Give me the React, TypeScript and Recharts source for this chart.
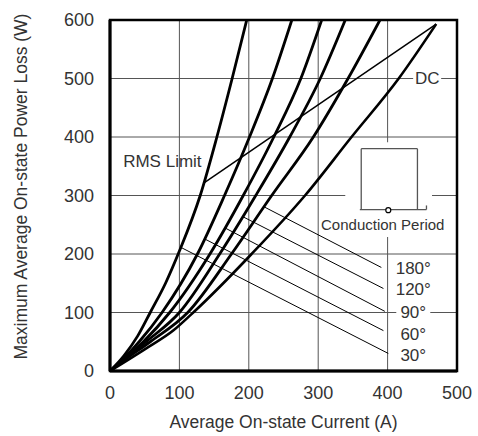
import React from 'react';
import {
  LineChart,
  Line,
  XAxis,
  YAxis,
  CartesianGrid,
  ReferenceArea,
  ReferenceLine,
  ReferenceDot,
  Label,
} from 'recharts';

const FONT = '"Liberation Sans", Arial, sans-serif';
const TEXT = '#333';

const xTicks = [0, 100, 200, 300, 400, 500];
const yTicks = [0, 100, 200, 300, 400, 500, 600];

// [current A, loss W]
const curve30 = [[0, 0], [20, 26], [40, 60], [58, 100], [80, 150], [100, 205], [130, 300], [154, 400], [176, 500], [197, 600]];
const curve60 = [[0, 0], [22, 24], [42, 50], [75, 100], [126, 200], [165, 300], [201, 400], [234, 500], [262, 600]];
const curve90 = [[0, 0], [20, 20], [48, 50], [86, 100], [144, 200], [192, 300], [236, 400], [275, 500], [305, 600]];
const curve120 = [[0, 0], [20, 19], [52, 50], [100, 100], [158, 200], [210, 300], [259, 400], [303, 500], [339, 600]];
const curve180 = [[0, 0], [20, 18], [58, 50], [112, 100], [175, 200], [233, 300], [293, 400], [343, 500], [389, 600]];
const curveDC = [[0, 0], [50, 37], [92, 70], [120, 100], [204, 200], [281, 300], [348, 400], [416, 500], [470, 593]];
const rmsLimit = [[136, 322], [470, 593]];

// leader lines from each curve to its angle label
const leader180 = [[223, 280], [391, 177]];
const leader120 = [[191, 264], [394, 141]];
const leader90 = [[165, 245], [396, 102]];
const leader60 = [[136, 226], [394, 69]];
const leader30 = [[101, 212], [401, 30]];

const angleLabels = ['180°', '120°', '90°', '60°', '30°'];
const angleLabelY = [176, 141, 101, 64, 27];
const angleLabelX = 437;

const toPts = (arr: number[][]) => arr.map(([x, y]) => ({ x, y }));

const textLabel =
  (text: string, anchor: 'start' | 'middle' = 'middle', size = 17, bg = 0) =>
  (props: any) => {
    const vb = props.viewBox || {};
    const cx = vb.x + (vb.width || 0) / 2;
    const cy = vb.y + (vb.height || 0) / 2;
    return (
      <g>
        {bg > 0 && <rect x={cx - bg / 2} y={cy - 9} width={bg} height={18} fill="#fff" />}
        <text
          x={cx}
          y={cy}
          dy="0.36em"
          textAnchor={anchor}
          fill={TEXT}
          fontSize={size}
          fontFamily={FONT}
        >
          {text}
        </text>
      </g>
    );
  };

const yTitle = (props: any) => {
  const vb = props.viewBox;
  const x = vb.x + 27;
  const y = vb.y + vb.height / 2 - 9;
  return (
    <text
      x={x}
      y={y}
      transform={`rotate(-90, ${x}, ${y})`}
      textAnchor="middle"
      fill={TEXT}
      fontSize={17.5}
      fontFamily={FONT}
    >
      Maximum Average On-state Power Loss (W)
    </text>
  );
};

const curves = [curve30, curve60, curve90, curve120, curve180];
const leaders = [leader180, leader120, leader90, leader60, leader30];

export default function App() {
  return (
    <div style={{ position: 'absolute', left: 0, top: 0, background: '#fff' }}>
      <LineChart
        width={478}
        height={436}
        margin={{ top: 20, right: 21, bottom: 0, left: 0 }}
      >
        <CartesianGrid stroke="#555" strokeWidth={1} horizontalValues={yTicks} verticalValues={xTicks} />
        <XAxis
          type="number"
          dataKey="x"
          domain={[0, 500]}
          ticks={xTicks}
          height={65}
          tickLine={false}
          tickSize={0}
          tickMargin={15}
          axisLine={{ stroke: '#000', strokeWidth: 3 }}
          tick={{ fill: TEXT, fontSize: 18, fontFamily: FONT }}
          allowDataOverflow
        >
          <Label
            value="Average On-state Current (A)"
            position="insideBottom"
            offset={8}
            fill={TEXT}
            fontSize={17.5}
            fontFamily={FONT}
          />
        </XAxis>
        <YAxis
          type="number"
          dataKey="y"
          domain={[0, 600]}
          ticks={yTicks}
          width={110}
          tickLine={false}
          tickSize={0}
          tickMargin={16}
          axisLine={{ stroke: '#000', strokeWidth: 3 }}
          tick={{ fill: TEXT, fontSize: 18, fontFamily: FONT }}
          allowDataOverflow
          label={yTitle}
        />

        {/* white patch behind the conduction-period inset */}
        <ReferenceArea x1={339} x2={464} y1={229} y2={391} fill="#fff" fillOpacity={1} stroke="none" />

        {/* inset waveform */}
        <ReferenceLine segment={[{ x: 362, y: 380 }, { x: 443, y: 380 }]} stroke="#555" strokeWidth={1.3} />
        <ReferenceLine segment={[{ x: 362, y: 380 }, { x: 362, y: 276 }]} stroke="#555" strokeWidth={1.3} />
        <ReferenceLine segment={[{ x: 443, y: 380 }, { x: 443, y: 276 }]} stroke="#555" strokeWidth={1.3} />
        <ReferenceLine segment={[{ x: 360, y: 276 }, { x: 456, y: 276 }]} stroke="#555" strokeWidth={1.3} />
        <ReferenceLine segment={[{ x: 456, y: 276 }, { x: 456, y: 283 }]} stroke="#555" strokeWidth={1.3} />
        <ReferenceDot x={401} y={275} r={2.5} fill="#fff" stroke="#000" strokeWidth={1.2} />

        {leaders.map((l, i) => (
          <Line
            key={'ld' + i}
            data={toPts(l)}
            dataKey="y"
            type="linear"
            stroke="#000"
            strokeWidth={1}
            dot={false}
            isAnimationActive={false}
          />
        ))}

        <Line
          data={toPts(rmsLimit)}
          dataKey="y"
          type="linear"
          stroke="#000"
          strokeWidth={1.5}
          dot={false}
          isAnimationActive={false}
        />

        {curves.map((c, i) => (
          <Line
            key={'c' + i}
            data={toPts(c)}
            dataKey="y"
            type="monotone"
            stroke="#000"
            strokeWidth={2.8}
            dot={false}
            isAnimationActive={false}
          />
        ))}
        <Line
          data={toPts(curveDC)}
          dataKey="y"
          type="monotone"
          stroke="#000"
          strokeWidth={2.6}
          dot={false}
          isAnimationActive={false}
        />

        {/* frame */}
        <ReferenceArea x1={0} x2={500} y1={0} y2={600} fill="none" stroke="#000" strokeWidth={2.5} />

        {angleLabels.map((t, i) => (
          <ReferenceDot
            key={t}
            x={angleLabelX}
            y={angleLabelY[i]}
            r={0}
            fill="none"
            stroke="none"
            label={textLabel(t, 'middle', 17, t === '90°' ? 34 : 0)}
          />
        ))}
        <ReferenceDot x={457} y={501} r={0} fill="none" stroke="none" label={textLabel('DC', 'middle', 17, 28)} />
        <ReferenceDot x={19} y={359} r={0} fill="none" stroke="none" label={textLabel('RMS Limit', 'start', 17)} />
        <ReferenceDot x={393} y={250} r={0} fill="none" stroke="none" label={textLabel('Conduction Period', 'middle', 15)} />
      </LineChart>
    </div>
  );
}
